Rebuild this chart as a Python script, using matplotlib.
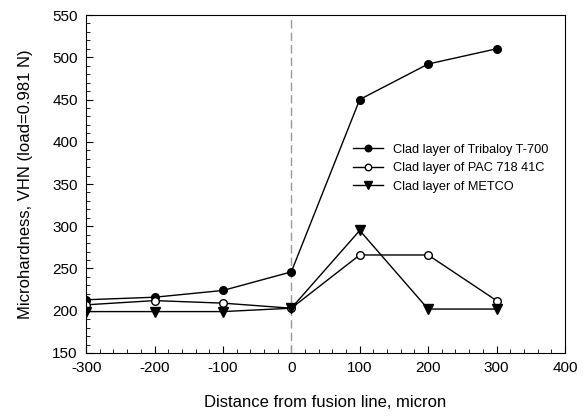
import numpy as np
import matplotlib.pyplot as plt
from matplotlib.ticker import MultipleLocator

plt.rcParams['font.family'] = ['Liberation Sans', 'DejaVu Sans']
plt.rcParams['axes.unicode_minus'] = False

distance = [-300, -200, -100, 0, 100, 200, 300]
tribaloy = [213, 216, 224, 246, 450, 492, 510]
pac = [207, 212, 209, 203, 266, 266, 212]
metco = [199, 199, 199, 203, 295, 202, 202]

fig = plt.figure(figsize=(5.86, 4.17), dpi=100)
ax = fig.add_axes([0.147, 0.1535, 0.817, 0.8105])

ax.axvline(0, color='#999999', linestyle=(0, (6, 3)), linewidth=1)

ax.plot(distance, tribaloy, color='black', marker='o', markersize=5.5, linewidth=1,
        label='Clad layer of Tribaloy T-700')
ax.plot(distance, pac, color='black', marker='o', markersize=5.5, linewidth=1,
        markerfacecolor='white', label='Clad layer of PAC 718 41C')
ax.plot(distance, metco, color='black', marker='v', markersize=6.5, linewidth=1,
        label='Clad layer of METCO')

ax.set_xlim(-300, 400)
ax.set_ylim(150, 550)
ax.xaxis.set_major_locator(MultipleLocator(100))
ax.xaxis.set_minor_locator(MultipleLocator(20))
ax.yaxis.set_major_locator(MultipleLocator(50))
ax.yaxis.set_minor_locator(MultipleLocator(10))
ax.tick_params(which='both', direction='in', top=False, right=False, labelsize=11)
ax.tick_params(which='major', length=5, pad=6)
ax.tick_params(which='minor', length=3)

ax.set_xlabel('Distance from fusion line, micron', fontsize=12, labelpad=14)
ax.set_ylabel('Microhardness, VHN (load=0.981 N)', fontsize=12, labelpad=14)

ax.legend(loc='upper left', bbox_to_anchor=(0.547, 0.634), frameon=False,
          fontsize=9.2, handlelength=2.3, borderaxespad=0, labelspacing=0.5,
          markerscale=0.85)

fig.savefig('out.png', dpi=100)
